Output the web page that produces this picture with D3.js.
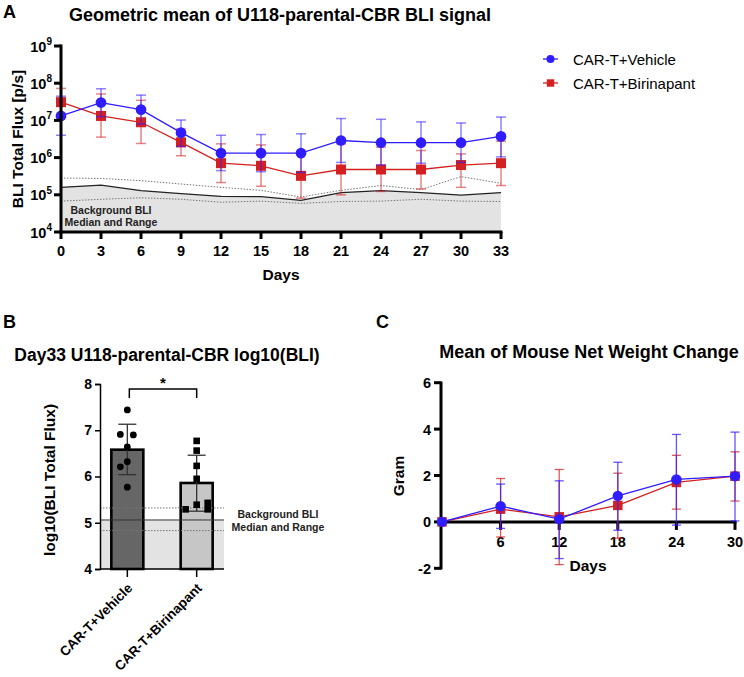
<!DOCTYPE html>
<html>
<head>
<meta charset="utf-8">
<script src="https://cdn.jsdelivr.net/npm/d3@7"></script>
<style>
  body { margin: 0; background: #fff; }
  svg { font-family: "Liberation Sans", Arial, sans-serif; }
</style>
</head>
<body>
<svg id="fig" width="744" height="677"></svg>
<script>
// ---- panel A data (log10 of BLI total flux) ----
const daysA = [0, 3, 6, 9, 12, 15, 18, 21, 24, 27, 30, 33];
const vehMean = [7.12, 7.48, 7.29, 6.67, 6.12, 6.12, 6.12, 6.46, 6.40, 6.40, 6.40, 6.57];
const vehHi = [7.65, 7.85, 7.68, 7.01, 6.60, 6.62, 6.64, 7.05, 7.03, 6.96, 6.93, 7.09];
const vehLo = [6.60, 7.10, 6.90, 6.30, 5.65, 5.62, 5.60, 5.87, 5.80, 5.85, 5.87, 6.02];
const biriMean = [7.49, 7.12, 6.95, 6.41, 5.85, 5.78, 5.51, 5.68, 5.68, 5.68, 5.80, 5.85];
const biriHi = [7.86, 7.71, 7.54, 6.77, 6.37, 6.34, 6.10, 6.37, 6.28, 6.19, 6.10, 6.44];
const biriLo = [7.10, 6.55, 6.38, 6.05, 5.33, 5.23, 4.91, 5.00, 5.09, 5.16, 5.20, 5.25];
const bgMedian = [5.20, 5.26, 5.11, 5.03, 4.96, 4.95, 4.85, 5.06, 5.11, 5.06, 4.99, 5.06];
const bgMax = [5.45, 5.44, 5.38, 5.29, 5.20, 5.12, 4.94, 5.12, 5.25, 5.14, 5.49, 5.31];
const bgMin = [4.83, 4.88, 4.92, 4.88, 4.80, 4.83, 4.77, 4.82, 4.83, 4.88, 4.83, 4.82];

// ---- panel B data (day 33 log10 BLI) ----
const groups = ['CAR-T+Vehicle', 'CAR-T+Birinapant'];
const vehPoints = [7.44, 6.91, 6.90, 6.64, 6.32, 6.21, 5.77];
const biriPoints = [6.77, 6.56, 6.23, 5.95, 5.39, 5.29, 5.43, 5.29];
const barMeans = [6.58, 5.86];
const barHi = [7.13, 6.46];
const barLo = [6.04, 5.25];
const bgDay33 = [4.83, 5.06, 5.32]; // min, median, max

// ---- panel C data (net weight change, g) ----
const daysC = [0, 6, 12, 18, 24, 30];
const wVeh = [0, 0.68, 0.12, 1.12, 1.83, 1.97];
const wVehHi = [0, 1.63, 1.77, 2.57, 3.77, 3.87];
const wVehLo = [0, -0.28, -1.58, -0.36, -0.14, 0.04];
const wBiri = [0, 0.55, 0.22, 0.71, 1.70, 1.97];
const wBiriHi = [0, 1.87, 2.26, 2.10, 2.87, 3.02];
const wBiriLo = [0, -0.65, -1.84, -0.70, 0.55, 0.90];

const blue = '#2f1cff';
const red = '#d42020';
const svg = d3.select('#fig');

function panelLabel(t, x, y) {
  svg.append('text').text(t).attr('x', x).attr('y', y)
    .attr('font-size', 18).attr('font-weight', 'bold');
}

// ================= PANEL A =================
panelLabel('A', 3, 18);
svg.append('text').text('Geometric mean of U118-parental-CBR BLI signal')
  .attr('x', 280).attr('y', 21).attr('text-anchor', 'middle')
  .attr('font-size', 18).attr('font-weight', 'bold');

const xA = d3.scaleLinear().domain([0, 33]).range([61, 501]);
const yA = d3.scaleLinear().domain([4, 9]).range([232, 46]); // log10 space

// background band
const bgRows = daysA.map((d, i) => ({ d, med: bgMedian[i], hi: bgMax[i], lo: bgMin[i] }));
svg.append('path').datum(bgRows)
  .attr('fill', '#e3e3e3')
  .attr('d', d3.area().x(r => xA(r.d)).y0(yA(4)).y1(r => yA(r.med)));
svg.append('path').datum(bgRows)
  .attr('fill', 'none').attr('stroke', '#222').attr('stroke-width', 1.3)
  .attr('d', d3.line().x(r => xA(r.d)).y(r => yA(r.med)));
['hi', 'lo'].forEach(k => {
  svg.append('path').datum(bgRows)
    .attr('fill', 'none').attr('stroke', '#777').attr('stroke-width', 1)
    .attr('stroke-dasharray', '1.5,1.5')
    .attr('d', d3.line().x(r => xA(r.d)).y(r => yA(r[k])));
});
svg.append('text').attr('text-anchor', 'middle').attr('font-size', 10.5)
  .attr('font-weight', 'bold').attr('fill', '#222')
  .selectAll('tspan').data(['Background BLI', 'Median and Range']).enter()
  .append('tspan').attr('x', 111).attr('y', (v, i) => 214 + i * 12).text(v => v);

function seriesA(mean, hi, lo, color, shape) {
  const rows = daysA.map((d, i) => ({ d, m: mean[i], h: hi[i], l: lo[i] }));
  const g = svg.append('g');
  g.selectAll('line.eb').data(rows).enter().append('line')
    .attr('x1', r => xA(r.d)).attr('x2', r => xA(r.d))
    .attr('y1', r => yA(r.h)).attr('y2', r => yA(r.l))
    .attr('stroke', color).attr('stroke-opacity', 0.55).attr('stroke-width', 1.5);
  ['h', 'l'].forEach(k => {
    g.selectAll('line.cap' + k).data(rows).enter().append('line')
      .attr('x1', r => xA(r.d) - 5).attr('x2', r => xA(r.d) + 5)
      .attr('y1', r => yA(r[k])).attr('y2', r => yA(r[k]))
      .attr('stroke', color).attr('stroke-opacity', 0.55).attr('stroke-width', 1.5);
  });
  g.append('path').datum(rows).attr('fill', 'none').attr('stroke', color)
    .attr('stroke-width', 1.3)
    .attr('d', d3.line().x(r => xA(r.d)).y(r => yA(r.m)));
  g.selectAll('path.mk').data(rows).enter().append('path')
    .attr('transform', r => `translate(${xA(r.d)},${yA(r.m)})`)
    .attr('d', d3.symbol().type(shape).size(shape === d3.symbolCircle ? 90 : 100))
    .attr('fill', color);
}
seriesA(biriMean, biriHi, biriLo, red, d3.symbolSquare);
seriesA(vehMean, vehHi, vehLo, blue, d3.symbolCircle);

// axes A
const axA = svg.append('g').attr('stroke', '#000').attr('stroke-width', 3);
axA.append('line').attr('x1', 61).attr('x2', 61).attr('y1', 44.5).attr('y2', 233.5);
axA.append('line').attr('x1', 59.5).attr('x2', 502.5).attr('y1', 232).attr('y2', 232);
d3.range(4, 10).forEach(p => {
  axA.append('line').attr('x1', 54).attr('x2', 61).attr('y1', yA(p)).attr('y2', yA(p));
  const t = svg.append('text').attr('x', 52).attr('y', yA(p) + 5.5)
    .attr('text-anchor', 'end').attr('font-size', 14.5).attr('font-weight', 'bold');
  t.append('tspan').text('10');
  t.append('tspan').text(p).attr('font-size', 10).attr('dy', -6.5);
});
daysA.forEach(d => {
  axA.append('line').attr('x1', xA(d)).attr('x2', xA(d)).attr('y1', 232).attr('y2', 239);
  svg.append('text').text(d).attr('x', xA(d)).attr('y', 256)
    .attr('text-anchor', 'middle').attr('font-size', 14.5).attr('font-weight', 'bold');
});
svg.append('text').text('Days').attr('x', 281).attr('y', 280)
  .attr('text-anchor', 'middle').attr('font-size', 15.5).attr('font-weight', 'bold');
svg.append('text').text('BLI Total Flux [p/s]')
  .attr('transform', 'translate(23,139) rotate(-90)')
  .attr('text-anchor', 'middle').attr('font-size', 15.5).attr('font-weight', 'bold');

// legend
[[blue, d3.symbolCircle, 'CAR-T+Vehicle', 59], [red, d3.symbolSquare, 'CAR-T+Birinapant', 83]]
  .forEach(([c, s, label, y]) => {
    svg.append('line').attr('x1', 543).attr('x2', 558).attr('y1', y).attr('y2', y)
      .attr('stroke', c).attr('stroke-width', 1.3);
    svg.append('path').attr('transform', `translate(550.5,${y})`)
      .attr('d', d3.symbol().type(s).size(s === d3.symbolCircle ? 50 : 55)).attr('fill', c);
    svg.append('text').text(label).attr('x', 573).attr('y', y + 5.5).attr('font-size', 15);
  });

// ================= PANEL B =================
panelLabel('B', 3, 328);
svg.append('text').text('Day33 U118-parental-CBR log10(BLI)')
  .attr('x', 167).attr('y', 361).attr('text-anchor', 'middle')
  .attr('font-size', 17.5).attr('font-weight', 'bold');

const yB = d3.scaleLinear().domain([4, 8]).range([569, 384]);
const xB = d3.scaleBand().domain(groups).range([110, 214]).paddingInner(0.5).paddingOuter(0.0);
const bw = 34;
const cx = g => xB(g) + xB.bandwidth() / 2;

svg.append('rect').attr('x', 100).attr('y', yB(bgDay33[1])).attr('width', 124)
  .attr('height', yB(4) - yB(bgDay33[1])).attr('fill', '#e3e3e3');
const barFills = ['#666666', '#c6c6c6'];
svg.selectAll('rect.bar').data(groups).enter().append('rect')
  .attr('x', g => cx(g) - bw / 2 + 1).attr('width', bw - 2)
  .attr('y', (g, i) => yB(barMeans[i])).attr('height', (g, i) => yB(4) - yB(barMeans[i]))
  .attr('fill', (g, i) => barFills[i]).attr('stroke', '#000').attr('stroke-width', 2.6);
svg.append('line').attr('x1', 100).attr('x2', 224).attr('y1', yB(bgDay33[1])).attr('y2', yB(bgDay33[1]))
  .attr('stroke', '#333').attr('stroke-width', 1);
[bgDay33[0], bgDay33[2]].forEach(v => {
  svg.append('line').attr('x1', 100).attr('x2', 224).attr('y1', yB(v)).attr('y2', yB(v))
    .attr('stroke', '#777').attr('stroke-width', 1).attr('stroke-dasharray', '1.5,1.5');
});
svg.append('text').attr('text-anchor', 'middle').attr('font-size', 10.5)
  .attr('font-weight', 'bold').attr('fill', '#222')
  .selectAll('tspan').data(['Background BLI', 'Median and Range']).enter()
  .append('tspan').attr('x', 278).attr('y', (v, i) => 518 + i * 12.5).text(v => v);

// error bars B
groups.forEach((g, i) => {
  const x = cx(g);
  svg.append('line').attr('x1', x).attr('x2', x).attr('y1', yB(barHi[i])).attr('y2', yB(barLo[i]))
    .attr('stroke', '#333').attr('stroke-width', 1.3);
  [barHi[i], barLo[i]].forEach(v => {
    svg.append('line').attr('x1', x - 9).attr('x2', x + 9).attr('y1', yB(v)).attr('y2', yB(v))
      .attr('stroke', '#333').attr('stroke-width', 1.3);
  });
});
// points B
const vehOffsets = [0, -7, 6, 0, 0, -7, 0];
const biriOffsets = [0, 0, 0, 0, 0, -11, 11, 11];
svg.selectAll('circle.pt').data(vehPoints).enter().append('circle')
  .attr('cx', (v, i) => cx(groups[0]) + vehOffsets[i]).attr('cy', v => yB(v))
  .attr('r', 3.4).attr('fill', '#000');
svg.selectAll('rect.pt').data(biriPoints).enter().append('rect')
  .attr('x', (v, i) => cx(groups[1]) + biriOffsets[i] - 3.3).attr('y', v => yB(v) - 3.3)
  .attr('width', 6.6).attr('height', 6.6).attr('fill', '#000');

// significance bracket
svg.append('path').attr('fill', 'none').attr('stroke', '#000').attr('stroke-width', 1.5)
  .attr('d', `M${cx(groups[0]) + 2},398 V389 H${cx(groups[1])} V398`);
svg.append('text').text('*').attr('x', (cx(groups[0]) + cx(groups[1])) / 2 + 1).attr('y', 388)
  .attr('text-anchor', 'middle').attr('font-size', 15).attr('font-weight', 'bold');

// axes B
const axB = d3.axisLeft(yB).ticks(4).tickSize(5).tickFormat(d3.format('d'));
svg.append('g').attr('transform', 'translate(100,0)').call(axB)
  .call(g => g.selectAll('text').attr('font-size', 14).attr('font-weight', 'bold')
    .attr('fill', '#000').attr('font-family', 'Liberation Sans, Arial, sans-serif'))
  .call(g => g.selectAll('line,path').attr('stroke', '#000').attr('stroke-width', 1.5));
svg.append('line').attr('x1', 100).attr('x2', 224).attr('y1', 569).attr('y2', 569)
  .attr('stroke', '#000').attr('stroke-width', 1.3);
groups.forEach(g => {
  svg.append('line').attr('x1', cx(g)).attr('x2', cx(g)).attr('y1', 569).attr('y2', 577)
    .attr('stroke', '#000').attr('stroke-width', 1.5);
  svg.append('text').text(g)
    .attr('transform', `translate(${cx(g) + 6},${589}) rotate(-45)`)
    .attr('text-anchor', 'end').attr('font-size', 13.5).attr('font-weight', 'bold');
});
svg.append('text').text('log10(BLI Total Flux)')
  .attr('transform', 'translate(55,480) rotate(-90)')
  .attr('text-anchor', 'middle').attr('font-size', 15.5).attr('font-weight', 'bold');

// ================= PANEL C =================
panelLabel('C', 376, 328);
svg.append('text').text('Mean of Mouse Net Weight Change')
  .attr('x', 589).attr('y', 358).attr('text-anchor', 'middle')
  .attr('font-size', 18).attr('font-weight', 'bold');

const xC = d3.scaleLinear().domain([0, 30]).range([442, 735]);
const yC = d3.scaleLinear().domain([-2, 6]).range([568.3, 382.7]);

// axes C (drawn first so series sit on top)
const axC = svg.append('g').attr('stroke', '#000').attr('stroke-width', 3);
axC.append('line').attr('x1', 441).attr('x2', 441).attr('y1', 381.5).attr('y2', 569.5);
axC.append('line').attr('x1', 441).attr('x2', 736.5).attr('y1', yC(0)).attr('y2', yC(0));
[-2, 0, 2, 4, 6].forEach(v => {
  axC.append('line').attr('x1', 434).attr('x2', 441).attr('y1', yC(v)).attr('y2', yC(v));
  svg.append('text').text(v).attr('x', 431).attr('y', yC(v) + 5.5)
    .attr('text-anchor', 'end').attr('font-size', 14.5).attr('font-weight', 'bold');
});
daysC.slice(1).forEach(d => {
  axC.append('line').attr('x1', xC(d)).attr('x2', xC(d)).attr('y1', yC(0)).attr('y2', yC(0) + 8);
  svg.append('text').text(d).attr('x', xC(d)).attr('y', 547)
    .attr('text-anchor', 'middle').attr('font-size', 14.5).attr('font-weight', 'bold');
});
svg.append('text').text('Days').attr('x', 588).attr('y', 571)
  .attr('text-anchor', 'middle').attr('font-size', 15.5).attr('font-weight', 'bold');
svg.append('text').text('Gram')
  .attr('transform', 'translate(404,476) rotate(-90)')
  .attr('text-anchor', 'middle').attr('font-size', 15.5).attr('font-weight', 'bold');

function seriesC(mean, hi, lo, color, shape) {
  const rows = daysC.map((d, i) => ({ d, m: mean[i], h: hi[i], l: lo[i] }));
  const g = svg.append('g');
  g.selectAll('line.eb').data(rows.slice(1)).enter().append('line')
    .attr('x1', r => xC(r.d)).attr('x2', r => xC(r.d))
    .attr('y1', r => yC(r.h)).attr('y2', r => yC(r.l))
    .attr('stroke', color).attr('stroke-opacity', 0.75).attr('stroke-width', 1.3);
  ['h', 'l'].forEach(k => {
    g.selectAll('line.cap' + k).data(rows.slice(1)).enter().append('line')
      .attr('x1', r => xC(r.d) - 4.5).attr('x2', r => xC(r.d) + 4.5)
      .attr('y1', r => yC(r[k])).attr('y2', r => yC(r[k]))
      .attr('stroke', color).attr('stroke-opacity', 0.75).attr('stroke-width', 1.3);
  });
  g.append('path').datum(rows).attr('fill', 'none').attr('stroke', color)
    .attr('stroke-width', 1.3)
    .attr('d', d3.line().x(r => xC(r.d)).y(r => yC(r.m)));
  g.selectAll('path.mk').data(rows).enter().append('path')
    .attr('transform', r => `translate(${xC(r.d)},${yC(r.m)})`)
    .attr('d', d3.symbol().type(shape).size(shape === d3.symbolCircle ? 85 : 90))
    .attr('fill', color);
}
seriesC(wBiri, wBiriHi, wBiriLo, red, d3.symbolSquare);
seriesC(wVeh, wVehHi, wVehLo, blue, d3.symbolCircle);
</script>
</body>
</html>
